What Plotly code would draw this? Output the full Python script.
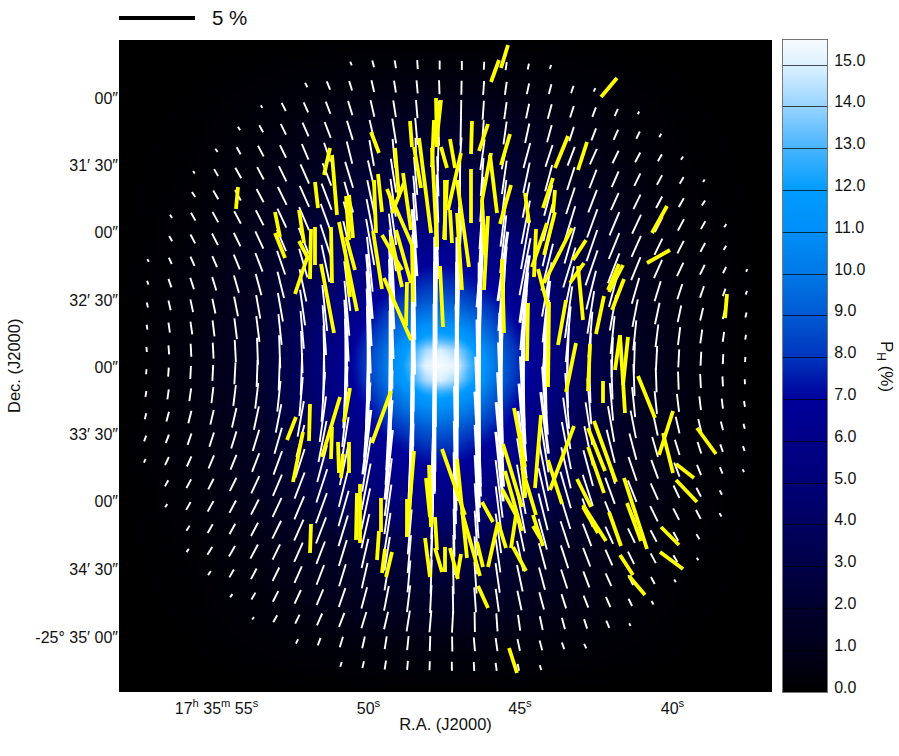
import plotly.graph_objects as go
import numpy as np

# Map pixel coordinates: 1 map unit = one pixel of the map
X_RANGE = [119, 772]
Y_RANGE = [692, 40]

ra_tick_pos = [216.5, 368.5, 520, 672.5]
ra_tick_text = ["17<sup>h</sup> 35<sup>m</sup> 55<sup>s</sup>", "50<sup>s</sup>", "45<sup>s</sup>", "40<sup>s</sup>"]
dec_tick_pos = [98, 165, 232.5, 300, 367, 434, 501, 569, 637]
dec_tick_text = ["00″", "31′ 30″", "00″", "32′ 30″", "00″", "33′ 30″", "00″", "34′ 30″", "-25° 35′ 00″"]

# Background P_H (%), one quadrant
bg_dx = [0, 15, 27, 50, 65, 85, 105, 140, 190, 250, 321]
bg_dy = [0, 15, 28, 45, 62, 78, 95, 125, 185, 235, 275, 325]
bg_quadrant = [
    [15.6, 15.2, 13.4, 10.5, 9.0, 7.3, 6.0, 4.0, 1.5, 0.5, 0.02],
    [15.0, 14.2, 12.8, 10.2, 8.8, 7.2, 5.9, 3.9, 1.5, 0.5, 0.02],
    [12.6, 12.3, 11.4, 9.5, 8.3, 6.9, 5.7, 3.8, 1.45, 0.5, 0.02],
    [10.7, 10.5, 10.0, 8.7, 7.6, 6.4, 5.4, 3.6, 1.4, 0.45, 0.02],
    [9.3, 9.1, 8.7, 7.7, 7.0, 6.0, 5.0, 3.2, 1.3, 0.45, 0.02],
    [8.2, 8.1, 7.7, 7.0, 6.3, 5.5, 4.6, 2.9, 1.25, 0.4, 0.02],
    [7.3, 7.2, 7.0, 6.4, 5.9, 5.1, 4.3, 2.7, 1.15, 0.4, 0.02],
    [6.0, 5.9, 5.8, 5.3, 4.9, 4.3, 3.6, 2.2, 1.0, 0.3, 0.02],
    [3.1, 3.0, 3.0, 2.7, 2.4, 2.1, 1.6, 1.15, 0.55, 0.17, 0.01],
    [1.7, 1.7, 1.6, 1.45, 1.4, 1.25, 1.0, 0.7, 0.35, 0.1, 0.0],
    [0.7, 0.7, 0.7, 0.65, 0.6, 0.55, 0.45, 0.35, 0.2, 0.05, 0.0],
    [0.05, 0.05, 0.05, 0.05, 0.04, 0.04, 0.03, 0.02, 0.01, 0.0, 0.0],
]
BG_X0, BG_Y0 = 440, 365

colorbar_ticks = [float(v) for v in range(16)]
colorbar_labels = ["%.1f" % v for v in colorbar_ticks]
PH_MAX = 15.6
color_stops = [
    (0, "#000000"), (1, "#00001a"), (2, "#00002d"), (3, "#000046"), (4, "#00005f"), (5, "#000078"),
    (6, "#000087"), (7, "#00009a"), (8, "#0034bc"), (9, "#0058d2"), (10, "#0078e6"), (11, "#008ff8"),
    (12, "#009cff"), (13, "#45b4ff"), (14, "#94d2ff"), (15, "#dcf1ff"), (15.6, "#f6fbff"),
]

# White vectors: first grid column in each row, tilt from north (deg) and length (map units)
white_first_col = [9, 7, 5, 4, 3, 2, 2, 1, 1, 0, 0, 0, 0, 0, 0, 0, 0, 0, 0, 1, 1, 2, 2, 3, 4, 5, 7, 9]
white_tilt = [
    [-24, -15, -10, -4, 0, 0, 3, 8, 12, 20],
    [-28, -22, -17, -13, -9, -5, -2, 1, 4, 8, 12, 15, 19, 24],
    [-30, -27, -24, -21, -17, -13, -9, -5, -2, 1, 4, 8, 12, 15, 18, 21, 24, 27],
    [-35, -29, -26, -24, -21, -17, -13, -9, -5, -2, 1, 4, 8, 12, 15, 18, 21, 24, 26, 30],
    [-38, -30, -28, -26, -23, -19, -14, -10, -5, -2, 1, 4, 8, 12, 15, 18, 21, 24, 26, 28, 30, 33],
    [-35, -30, -30, -28, -26, -24, -21, -17, -13, -9, -5, -2, 1, 4, 8, 12, 15, 18, 21, 24, 26, 28, 30, 33],
    [-33, -30, -29, -28, -26, -24, -21, -16, -12, -8, -5, -2, 1, 4, 7, 11, 15, 18, 21, 24, 26, 28, 30, 32],
    [-32, -30, -29, -28, -27, -25, -23, -20, -15, -11, -8, -4, -2, 1, 4, 7, 11, 14, 17, 20, 23, 25, 27, 28, 30, 32],
    [-30, -28, -27, -26, -25, -23, -21, -18, -13, -10, -7, -4, -2, 1, 3, 6, 10, 13, 16, 19, 22, 24, 26, 27, 28, 30],
    [-28, -25, -24, -23, -22, -21, -19, -16, -12, -9, -6, -3, -1, 1, 3, 5, 8, 11, 14, 17, 19, 21, 22, 24, 25, 26, 27, 28],
    [-20, -19, -18, -17, -16, -15, -14, -12, -9, -7, -5, -3, -1, 0, 1, 3, 5, 8, 10, 12, 14, 15, 16, 17, 18, 19, 20, 20],
    [-14, -13, -12, -12, -11, -10, -10, -8, -6, -5, -3, -2, -1, 0, 1, 2, 3, 5, 6, 8, 9, 10, 11, 12, 12, 13, 13, 14],
    [-9, -8, -8, -7, -7, -7, -6, -5, -4, -3, -2, -1, 0, 0, 0, 1, 2, 3, 4, 5, 5, 6, 6, 7, 7, 8, 8, 9],
    [-5, -4, -3, -3, -3, -2, -2, -2, -1, -1, -1, 0, 0, 0, 0, 0, 1, 1, 1, 2, 2, 2, 2, 3, 3, 3, 3, 4],
    [4, 4, 3, 3, 3, 2, 2, 2, 1, 1, 1, 0, 0, 0, 0, 0, -1, -1, -1, -1, -2, -2, -2, -2, -2, -3, -3, -3],
    [9, 8, 8, 7, 7, 7, 6, 5, 4, 3, 2, 1, 1, 0, 0, -1, -2, -3, -4, -4, -5, -5, -6, -6, -7, -7, -7, -8],
    [15, 15, 14, 13, 13, 12, 11, 10, 8, 6, 4, 3, 1, 1, 0, -2, -3, -5, -7, -8, -9, -10, -11, -12, -13, -13, -14, -15],
    [20, 20, 19, 18, 17, 17, 16, 14, 11, 9, 7, 4, 2, 1, -1, -3, -5, -7, -9, -11, -12, -14, -15, -16, -17, -18, -19, -20],
    [25, 25, 24, 23, 22, 21, 20, 18, 15, 12, 9, 6, 3, 1, -1, -3, -6, -9, -11, -13, -15, -17, -19, -20, -21, -22, -23, -24],
    [29, 28, 27, 26, 25, 23, 21, 18, 14, 11, 7, 4, 1, -1, -3, -7, -10, -13, -16, -18, -20, -22, -24, -25, -27, -28],
    [31, 30, 29, 28, 27, 25, 23, 20, 16, 12, 8, 4, 2, -1, -4, -7, -11, -14, -17, -20, -22, -24, -26, -27, -28, -30],
    [33, 30, 29, 28, 26, 24, 21, 17, 13, 9, 5, 2, -1, -4, -8, -12, -15, -18, -21, -24, -26, -28, -29, -30],
    [34, 32, 30, 28, 26, 24, 21, 17, 13, 9, 5, 2, -1, -4, -8, -12, -15, -18, -21, -24, -26, -28, -30, -30],
    [35, 30, 28, 26, 24, 21, 17, 13, 9, 5, 2, -1, -4, -8, -12, -15, -18, -21, -24, -26, -28, -30],
    [35, 30, 27, 25, 23, 19, 15, 11, 7, 3, -1, -4, -8, -12, -15, -18, -21, -24, -26, -30],
    [35, 30, 26, 24, 21, 17, 13, 9, 5, 3, -1, -4, -8, -12, -15, -18, -22, -28],
    [25, 20, 17, 13, 9, 6, 2, -1, -5, -8, -12, -15, -20, -25],
    [18, 13, 9, 5, 2, -1, -3, -8, -12, -18],
]
white_len = [
    [4, 7, 8, 9, 9, 9, 8, 8, 6, 4],
    [5, 9, 10, 12, 12, 13, 14, 14, 14, 13, 11, 10, 8, 4],
    [3, 9, 11, 13, 15, 17, 17, 18, 18, 20, 19, 17, 15, 15, 12, 10, 8, 3],
    [4, 8, 12, 15, 17, 20, 22, 25, 27, 28, 27, 25, 23, 20, 18, 15, 13, 11, 8, 4],
    [4, 8, 12, 14, 17, 20, 23, 26, 29, 32, 34, 34, 31, 29, 26, 23, 20, 17, 14, 11, 8, 4],
    [3, 8, 12, 14, 17, 21, 24, 27, 30, 34, 38, 40, 40, 38, 34, 31, 27, 24, 20, 17, 14, 11, 8, 3],
    [6, 10, 12, 15, 20, 23, 28, 32, 35, 38, 45, 48, 48, 45, 40, 36, 32, 28, 24, 19, 16, 13, 10, 6],
    [4, 9, 12, 14, 17, 21, 25, 32, 37, 42, 50, 55, 58, 58, 55, 50, 44, 38, 35, 30, 25, 21, 17, 13, 9, 4],
    [6, 10, 13, 15, 19, 23, 28, 35, 42, 47, 58, 67, 72, 72, 67, 58, 50, 44, 38, 33, 28, 23, 18, 14, 10, 5],
    [3, 7, 10, 12, 16, 20, 25, 30, 38, 43, 55, 70, 83, 90, 90, 83, 70, 58, 48, 42, 37, 32, 25, 20, 15, 11, 7, 3],
    [4, 9, 12, 14, 18, 22, 27, 33, 42, 50, 65, 85, 105, 115, 115, 105, 85, 68, 55, 48, 40, 34, 27, 21, 16, 12, 8, 4],
    [5, 10, 13, 15, 20, 24, 29, 36, 46, 55, 75, 100, 130, 145, 145, 130, 100, 78, 62, 52, 43, 36, 28, 22, 17, 13, 9, 5],
    [5, 10, 13, 16, 21, 26, 31, 38, 50, 62, 85, 115, 160, 190, 190, 160, 115, 88, 68, 56, 46, 38, 30, 23, 18, 14, 10, 5],
    [5, 9, 13, 16, 22, 27, 33, 42, 54, 68, 95, 130, 185, 235, 235, 185, 130, 95, 72, 58, 48, 40, 32, 24, 18, 14, 10, 5],
    [5, 9, 13, 16, 22, 27, 33, 42, 54, 68, 95, 130, 185, 230, 230, 185, 130, 95, 72, 58, 48, 40, 32, 24, 18, 14, 10, 5],
    [6, 10, 13, 16, 21, 26, 31, 39, 50, 62, 85, 115, 160, 190, 190, 160, 115, 88, 68, 56, 46, 38, 30, 23, 18, 14, 10, 6],
    [6, 10, 13, 15, 20, 24, 29, 36, 46, 55, 75, 100, 130, 145, 145, 130, 100, 78, 62, 52, 43, 36, 28, 22, 17, 13, 9, 5],
    [6, 9, 12, 15, 18, 22, 27, 33, 42, 50, 65, 85, 105, 115, 115, 105, 85, 68, 55, 48, 40, 34, 27, 21, 16, 12, 8, 5],
    [4, 9, 11, 14, 16, 20, 25, 30, 38, 43, 55, 70, 83, 90, 90, 83, 70, 58, 48, 42, 37, 32, 25, 20, 15, 11, 7, 3],
    [7, 10, 12, 15, 19, 23, 28, 35, 42, 47, 58, 67, 72, 72, 67, 58, 50, 44, 38, 33, 28, 23, 18, 14, 10, 5],
    [4, 9, 12, 14, 17, 21, 25, 32, 37, 42, 50, 55, 58, 58, 55, 50, 44, 38, 35, 30, 25, 21, 17, 13, 10, 4],
    [6, 10, 12, 15, 20, 23, 28, 32, 35, 38, 45, 48, 48, 45, 40, 36, 32, 28, 24, 19, 16, 13, 10, 6],
    [4, 9, 12, 16, 17, 21, 24, 27, 30, 34, 38, 40, 40, 38, 34, 31, 27, 24, 20, 17, 14, 11, 8, 3],
    [5, 9, 12, 15, 18, 21, 23, 26, 29, 32, 34, 34, 32, 30, 27, 23, 20, 17, 14, 11, 8, 3],
    [4, 8, 12, 15, 17, 20, 22, 25, 27, 28, 27, 25, 23, 20, 18, 15, 13, 11, 8, 4],
    [3, 8, 10, 13, 15, 17, 18, 21, 22, 22, 20, 18, 16, 14, 12, 10, 8, 3],
    [5, 8, 11, 12, 13, 14, 15, 15, 14, 13, 12, 10, 7, 5],
    [5, 7, 9, 9, 9, 9, 9, 8, 7, 5],
]
GRID_X0, GRID_Y0, GRID_DX, GRID_DY, GRID_SKEW = 445.75, 365.6, 22.17, 22.25, 0.37
LONG_VECTOR = 60

# Yellow vectors: end points, in map coordinates
yellow_x0 = [371, 410, 414, 419, 436, 441, 434, 432, 441, 447, 440, 330, 332, 238, 315, 275, 275, 299, 299, 311, 315, 307, 331, 321, 346, 349, 339, 346, 346, 374, 378, 373, 395, 403, 387, 404, 391, 382, 391, 396, 412, 384, 407,
             508, 499, 617, 472, 488, 510, 450, 461, 457, 471, 491, 490, 511, 457, 450, 445, 488, 482, 502, 568, 587, 553, 555, 525, 555, 547, 536, 667, 670, 586, 572, 584, 578, 623, 619, 624, 538, 604, 566, 528, 549, 727, 576, 590, 620, 628, 620,
             603, 638, 673, 663, 697, 676, 676, 514, 541, 574, 520, 503, 548, 588, 594, 588, 577, 522, 505, 502, 533, 533, 516, 513, 498, 498, 482, 442, 457, 462, 477, 450, 461, 445, 478, 583, 583, 609, 624, 627, 661, 660, 620, 629, 509,
             350, 340, 391, 296, 310, 303, 332, 338, 343, 349, 414, 407, 429, 426, 435, 425, 435, 360, 357, 381, 379, 385, 392, 311]
yellow_y0 = [132, 121, 147, 138, 98, 100, 120, 148, 147, 180, 266, 148, 155, 187, 182, 212, 233, 210, 241, 229, 227, 258, 227, 264, 196, 195, 222, 237, 258, 180, 174, 231, 148, 173, 189, 183, 197, 235, 236, 230, 244, 278, 282,
             45, 60, 78, 121, 124, 134, 139, 153, 180, 169, 153, 155, 185, 213, 210, 180, 216, 200, 259, 136, 142, 178, 190, 193, 212, 223, 229, 206, 250, 240, 228, 263, 266, 265, 264, 279, 269, 296, 300, 303, 302, 294, 343, 344, 335, 337, 335,
             381, 376, 411, 433, 428, 464, 480, 408, 415, 426, 433, 444, 460, 428, 421, 447, 479, 468, 471, 489, 515, 526, 515, 547, 522, 522, 502, 449, 459, 512, 542, 548, 554, 547, 586, 505, 507, 512, 478, 503, 527, 552, 555, 576, 648,
             388, 397, 391, 417, 404, 432, 427, 442, 454, 442, 451, 499, 465, 478, 517, 538, 548, 484, 493, 498, 531, 549, 552, 524]
yellow_x1 = [379, 412, 421, 431, 437, 437, 432, 437, 447, 444, 443, 324, 337, 236, 318, 280, 285, 304, 309, 310, 315, 295, 332, 334, 349, 353, 357, 355, 350, 376, 382, 382, 399, 411, 396, 392, 412, 402, 402, 411, 413, 411, 406,
             501, 491, 601, 471, 479, 501, 455, 448, 469, 471, 482, 497, 500, 462, 452, 445, 484, 485, 504, 555, 578, 543, 553, 529, 544, 532, 534, 652, 647, 573, 544, 570, 583, 609, 608, 612, 548, 596, 558, 527, 548, 725, 566, 588, 625, 623, 615,
             603, 655, 659, 673, 716, 694, 697, 525, 535, 550, 525, 522, 562, 605, 616, 604, 591, 536, 522, 516, 543, 540, 511, 526, 488, 506, 493, 465, 467, 480, 483, 458, 457, 445, 488, 606, 598, 621, 647, 641, 679, 683, 633, 645, 517,
             344, 322, 372, 287, 309, 293, 331, 339, 341, 349, 407, 407, 431, 430, 437, 430, 442, 360, 356, 381, 377, 382, 386, 310]
yellow_y1 = [153, 147, 188, 233, 147, 137, 167, 247, 168, 239, 327, 175, 215, 209, 208, 237, 258, 243, 260, 279, 265, 294, 283, 333, 240, 238, 311, 270, 297, 233, 212, 289, 197, 230, 212, 213, 245, 270, 287, 283, 302, 340, 326,
             68, 82, 97, 154, 151, 165, 168, 210, 267, 223, 200, 213, 224, 290, 243, 240, 290, 255, 333, 168, 170, 208, 213, 223, 255, 267, 277, 233, 263, 260, 283, 283, 320, 292, 290, 310, 307, 334, 345, 361, 387, 318, 392, 391, 413, 385, 370,
             403, 418, 455, 473, 454, 478, 502, 467, 488, 490, 498, 507, 504, 471, 482, 493, 507, 515, 531, 515, 546, 538, 548, 571, 567, 548, 522, 515, 558, 576, 567, 579, 578, 572, 608, 541, 533, 546, 549, 541, 545, 569, 575, 595, 673,
             422, 457, 443, 440, 441, 482, 459, 473, 478, 473, 537, 537, 527, 517, 550, 577, 572, 543, 540, 532, 560, 573, 577, 553]

scale_bar_len = 76   # map units for 5 %
scale_bar_label = "5 %"

# Build marks
white_x, white_y, long_x, long_y = [], [], [], []
for j, (first, tilts, lens) in enumerate(zip(white_first_col, white_tilt, white_len)):
    for k, (t, l) in enumerate(zip(tilts, lens)):
        i = first + k
        cx = GRID_X0 + GRID_DX * (i - 13.5) - GRID_SKEW * (j - 13.5)
        cy = GRID_Y0 + GRID_DY * (j - 13.5) + GRID_SKEW * (i - 13.5)
        sx, sy = np.sin(np.radians(t)) * l / 2, np.cos(np.radians(t)) * l / 2
        tx, ty = (long_x, long_y) if l >= LONG_VECTOR else (white_x, white_y)
        tx += [cx - sx, cx + sx, None]
        ty += [cy + sy, cy - sy, None]

yellow_x, yellow_y = [], []
for a, b, c, d in zip(yellow_x0, yellow_y0, yellow_x1, yellow_y1):
    yellow_x += [a, c, None]
    yellow_y += [b, d, None]

quad = np.array(bg_quadrant)
bg_z = np.hstack([quad[:, :0:-1], quad])
bg_z = np.vstack([bg_z[:0:-1], bg_z])
bg_x = [BG_X0 - v for v in bg_dx[:0:-1]] + [BG_X0 + v for v in bg_dx]
bg_y = [BG_Y0 - v for v in bg_dy[:0:-1]] + [BG_Y0 + v for v in bg_dy]

colorscale = [[v / PH_MAX, c] for v, c in color_stops]
cb_y = [v for v, _ in color_stops]
cb_z = [[v, v] for v in cb_y]

FONT = "Liberation Sans, Arial, Helvetica, sans-serif"
TXT = "#111111"
FIG_W, FIG_H = 899, 756
ML, MR, MT, MB = 119, 72, 40, 64
INNER_W = FIG_W - ML - MR
MAIN_FRAC = 653 / INNER_W
CB_START = (782.5 - ML) / INNER_W

fig = go.Figure()
fig.add_trace(go.Heatmap(x=bg_x, y=bg_y, z=bg_z, zmin=0, zmax=PH_MAX, zsmooth="best",
                         colorscale=colorscale, showscale=False, hoverinfo="skip"))
fig.add_trace(go.Scatter(x=white_x, y=white_y, mode="lines", line=dict(color="#ffffff", width=1.9),
                         hoverinfo="skip", showlegend=False))
fig.add_trace(go.Scatter(x=long_x, y=long_y, mode="lines", line=dict(color="#ffffff", width=3.0),
                         hoverinfo="skip", showlegend=False))
fig.add_trace(go.Scatter(x=yellow_x, y=yellow_y, mode="lines", line=dict(color="#ffff00", width=3.8),
                         hoverinfo="skip", showlegend=False))
fig.add_trace(go.Heatmap(x=[0, 1], y=cb_y, z=cb_z, zmin=0, zmax=PH_MAX, zsmooth="best",
                         colorscale=colorscale, showscale=False, hoverinfo="skip",
                         xaxis="x2", yaxis="y2"))

fig.add_shape(type="line", xref="x", yref="paper", x0=X_RANGE[0], x1=X_RANGE[0] + scale_bar_len,
              y0=1.0337, y1=1.0337, line=dict(color="#000000", width=4))
fig.add_annotation(xref="x", yref="paper", x=X_RANGE[0] + scale_bar_len + 15, y=1.0345, text=scale_bar_label,
                   showarrow=False, xanchor="left", yanchor="middle", font=dict(family=FONT, size=20.5, color=TXT))
fig.add_annotation(xref="paper", yref="paper", x=(885 - ML) / INNER_W, y=0.5, text="P<sub>H</sub> (%)", textangle=90,
                   showarrow=False, xanchor="center", yanchor="middle", font=dict(family=FONT, size=17, color=TXT))
fig.add_annotation(xref="paper", yref="paper", x=(14 - ML) / INNER_W, y=0.5, text="Dec. (J2000)", textangle=-90,
                   showarrow=False, xanchor="center", yanchor="middle", font=dict(family=FONT, size=16.5, color=TXT))

fig.update_layout(
    width=FIG_W, height=FIG_H, autosize=False,
    margin=dict(l=ML, r=MR, t=MT, b=MB, pad=0),
    paper_bgcolor="white", plot_bgcolor="black",
    showlegend=False,
    xaxis=dict(domain=[0, MAIN_FRAC], range=X_RANGE, showgrid=False, zeroline=False, showline=False, ticks="",
               tickmode="array", tickvals=ra_tick_pos, ticktext=ra_tick_text, tickangle=0,
               ticklabelstandoff=5,
               tickfont=dict(family=FONT, size=16, color=TXT),
               title=dict(text="R.A. (J2000)", font=dict(family=FONT, size=16.5, color=TXT), standoff=2)),
    yaxis=dict(range=Y_RANGE, showgrid=False, zeroline=False, showline=False, ticks="",
               tickmode="array", tickvals=dec_tick_pos, ticktext=dec_tick_text,
               tickfont=dict(family=FONT, size=16, color=TXT)),
    xaxis2=dict(domain=[CB_START, 1], anchor="y2", range=[0, 1], showticklabels=False, ticks="", showgrid=False,
                zeroline=False, showline=True, linecolor="#777777", linewidth=1, mirror=True),
    yaxis2=dict(anchor="x2", side="right", range=[0, PH_MAX], showgrid=False, zeroline=False,
                showline=True, linecolor="#777777", linewidth=1, mirror=True,
                tickmode="array", tickvals=colorbar_ticks, ticktext=colorbar_labels,
                ticks="inside", ticklen=44, tickwidth=1, tickcolor="rgba(0,0,0,0.7)",
                ticklabelshift=-5, ticklabelstandoff=3, tickfont=dict(family=FONT, size=16, color=TXT)),
)
fig.write_html("out.html", config={"displayModeBar": False}, post_script="document.body.style.margin='0';")
